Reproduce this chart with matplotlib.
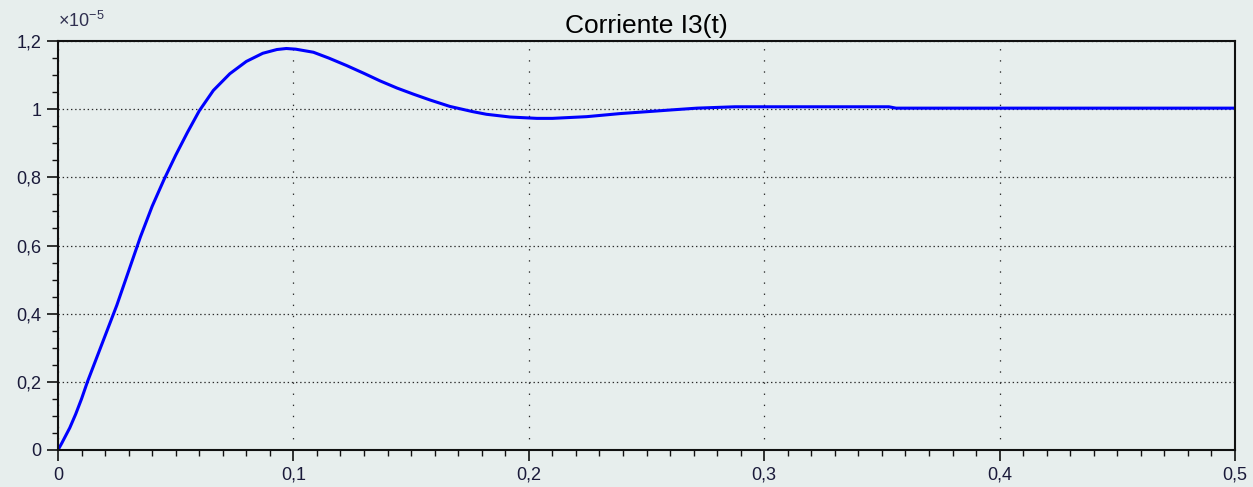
import numpy as np
import matplotlib
matplotlib.use('Agg')
import matplotlib.pyplot as plt
from matplotlib.ticker import MultipleLocator, FuncFormatter

# Corriente I3(t), valores (en unidades de 1e-5 A)
t = [0.0, 0.0016, 0.005, 0.0075, 0.01, 0.0125, 0.015, 0.02, 0.025, 0.03,
     0.035, 0.04, 0.045, 0.05, 0.055, 0.06, 0.066, 0.073, 0.080, 0.087,
     0.093, 0.097, 0.101, 0.1085, 0.115, 0.1226, 0.13, 0.1368, 0.144,
     0.151, 0.158, 0.1665, 0.176, 0.182, 0.192, 0.2035, 0.21, 0.2246,
     0.2387, 0.253, 0.261, 0.2715, 0.2876, 0.30, 0.33, 0.353, 0.356,
     0.40, 0.45, 0.5]
i3 = [0.0, 0.02, 0.065, 0.105, 0.15, 0.20, 0.245, 0.335, 0.425, 0.525,
      0.625, 0.715, 0.793, 0.865, 0.932, 0.995, 1.055, 1.104, 1.140,
      1.164, 1.175, 1.178, 1.176, 1.167, 1.150, 1.128, 1.105, 1.083,
      1.062, 1.044, 1.027, 1.008, 0.993, 0.985, 0.977, 0.973, 0.973,
      0.978, 0.987, 0.994, 0.998, 1.003, 1.007, 1.007, 1.007, 1.007,
      1.003, 1.003, 1.003, 1.003]

xticks = [0, 0.1, 0.2, 0.3, 0.4, 0.5]
yticks = [0, 0.2, 0.4, 0.6, 0.8, 1.0, 1.2]

bg = '#e7eeed'
plt.rcParams['font.family'] = ['Liberation Sans', 'DejaVu Sans']
plt.rcParams['mathtext.fontset'] = 'custom'
plt.rcParams['mathtext.rm'] = 'Liberation Sans'
plt.rcParams['lines.scale_dashes'] = False

fig = plt.figure(figsize=(12.53, 4.87), dpi=100, facecolor=bg)
ax = fig.add_axes([58 / 1253, 1 - 450 / 487, 1177 / 1253, 409 / 487])
ax.set_facecolor(bg)

ax.plot(t, i3, color='#0000ff', lw=2.2, solid_joinstyle='round')

ax.set_xlim(0, 0.5)
ax.set_ylim(0, 1.2)
ax.set_xticks(xticks)
ax.set_yticks(yticks)
ax.xaxis.set_minor_locator(MultipleLocator(0.01))
ax.yaxis.set_minor_locator(MultipleLocator(0.05))

comma = FuncFormatter(lambda v, p: ('%g' % round(v, 3)).replace('.', ','))
ax.xaxis.set_major_formatter(comma)
ax.yaxis.set_major_formatter(comma)

ax.tick_params(which='major', length=8, width=1.2, direction='out',
               labelsize=13, colors='#111111', labelcolor='#1a1a3a', pad=4)
ax.tick_params(which='minor', length=4, width=1.0, direction='out', colors='#111111')
ax.tick_params(top=False, right=False, which='both')

for s in ax.spines.values():
    s.set_color('#111111')
    s.set_linewidth(1.5)

ax.grid(True, axis='y', which='major', color='#2a2a2a', lw=0.9, linestyle=(0, (1, 2)))
ax.grid(True, axis='x', which='major', color='#2a2a2a', lw=0.9, linestyle=(0, (1, 7)))
ax.set_axisbelow(True)

ax.set_title('Corriente I3(t)', fontsize=19, pad=6)
ax.text(0.0, 1.025, r'$\times10^{-5}$', transform=ax.transAxes,
        fontsize=13, color='#303050', va='bottom', ha='left')

fig.savefig('out.png', dpi=100, facecolor=bg)
